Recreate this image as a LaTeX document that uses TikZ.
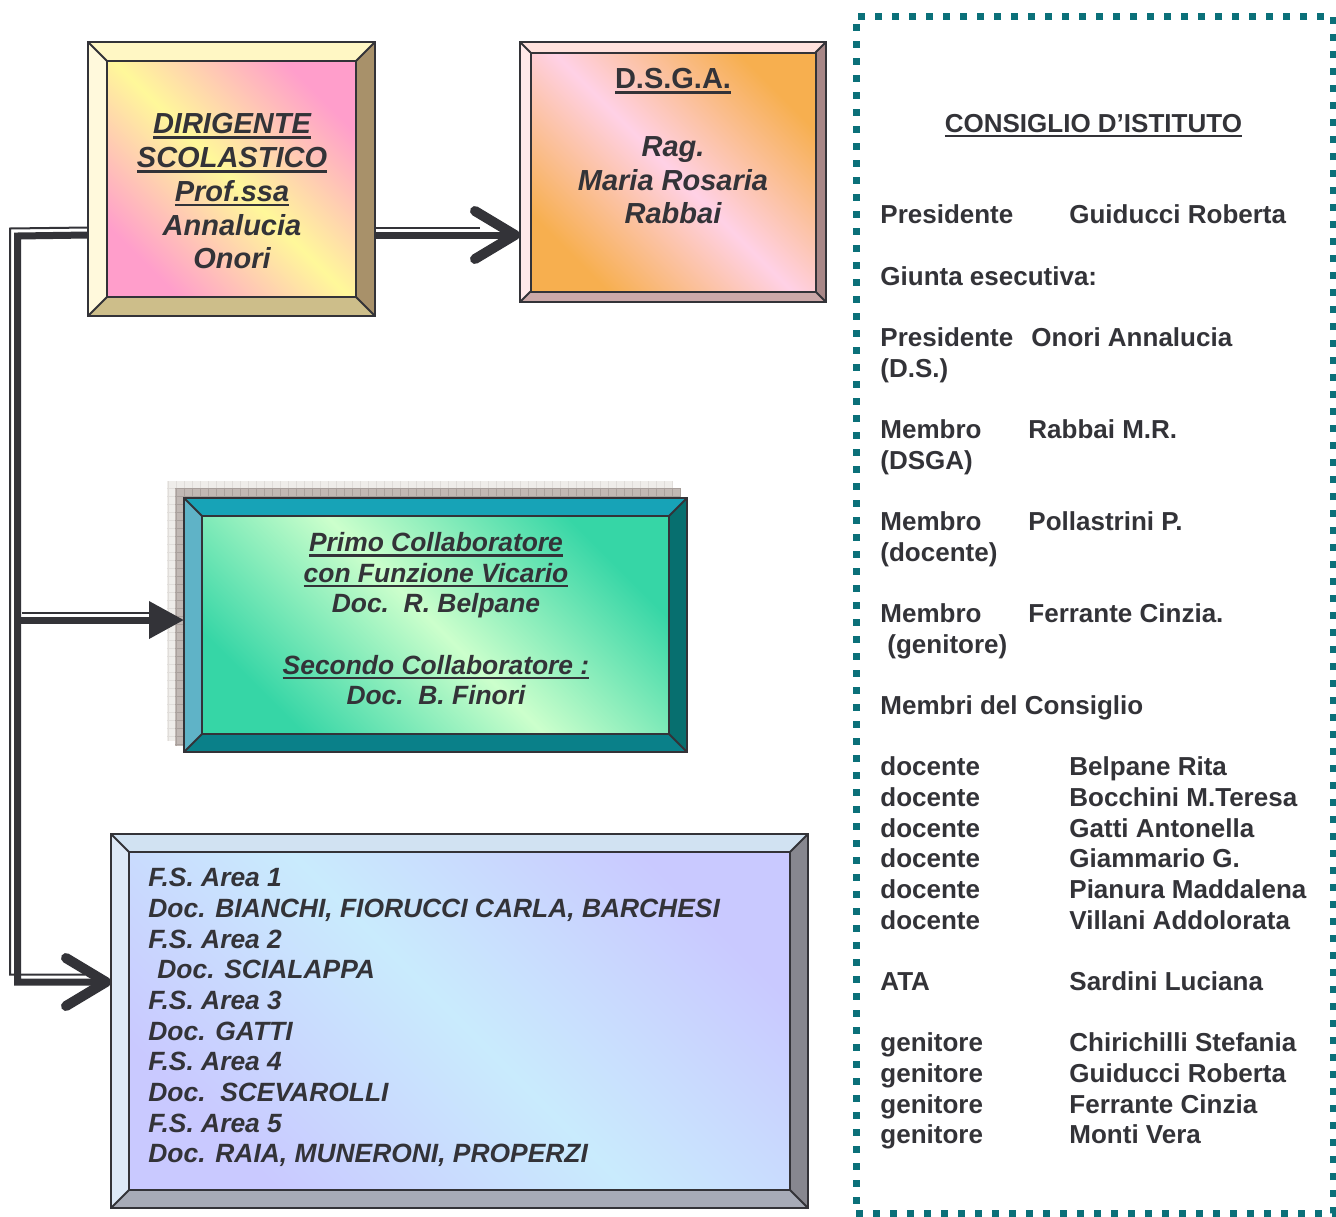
\documentclass[tikz,border=0pt]{standalone}
\usepackage{fontspec}
\setmainfont{Liberation Sans}
\usepackage{tikz}
\usetikzlibrary{arrows.meta}
\usetikzlibrary{positioning,calc}

\definecolor{ink}{HTML}{333338}
\definecolor{dsTop}{HTML}{FFF7C4}
\definecolor{dsLeft}{HTML}{FFF9DC}
\definecolor{dsRight}{HTML}{A8916A}
\definecolor{dsBottom}{HTML}{CDBE8A}
\definecolor{dsCorner}{HTML}{FF9ECB}
\definecolor{dsCenter}{HTML}{FFF89A}
\definecolor{gaTop}{HTML}{FFE1DD}
\definecolor{gaLeft}{HTML}{FFE9E9}
\definecolor{gaRight}{HTML}{A88787}
\definecolor{gaBottom}{HTML}{CCA9A9}
\definecolor{gaCorner}{HTML}{F7AF4F}
\definecolor{gaCenter}{HTML}{FFD1E6}
\definecolor{cvTop}{HTML}{17A3B7}
\definecolor{cvLeft}{HTML}{5FB3C7}
\definecolor{cvRight}{HTML}{076F6F}
\definecolor{cvBottom}{HTML}{0A8089}
\definecolor{cvCorner}{HTML}{36D6A6}
\definecolor{cvCenter}{HTML}{CCFFCC}
\definecolor{fsTop}{HTML}{D1E2F2}
\definecolor{fsLeft}{HTML}{DDE9F7}
\definecolor{fsRight}{HTML}{87878F}
\definecolor{fsBottom}{HTML}{A7ABB7}
\definecolor{fsCorner}{HTML}{C9C9FF}
\definecolor{fsCenter}{HTML}{C9EBFD}
\definecolor{cdiTeal}{HTML}{0B7079}
\definecolor{shLight}{HTML}{EFEDEA}
\definecolor{shLightGrid}{HTML}{E0DDDA}
\definecolor{shDark}{HTML}{C1B8B4}
\definecolor{shDarkGrid}{HTML}{A9A09C}

\tikzset{
    frame/.style={
        inner sep=0pt,
        outer sep=0pt
    },
    bevelline/.style={
        draw=ink,
        line width=1pt
    },
    boxtext/.style={
        align=center,
        text=ink,
        inner sep=0pt,
        font=\bfseries\itshape\fontsize{14.5}{16.9}\selectfont
    },
    smalltext/.style={
        text=ink,
        inner sep=0pt,
        font=\bfseries\itshape\fontsize{13.2}{15.33}\selectfont
    },
    cditext/.style={
        text=ink,
        inner sep=0pt,
        font=\bfseries\fontsize{13}{15.33}\selectfont
    },
    conthick/.style={
        draw=ink,
        line width=3.5pt
    },
    conthin/.style={
        draw=ink,
        line width=1pt
    },
    chev/.style={
        -{Straight Barb[length=20pt, width=24pt, line width=5pt 0, round]}
    }
}

% underline with a heavier rule
\newcommand{\undl}[1]{\setbox0=\hbox{#1}\rlap{\rule[-2.6pt]{\wd0}{1.3pt}}\box0}

% bevelled frame round node #1, bevel #2, sides #3-#6, gradient #7/#8
\newcommand{\bevelbox}[8]{%
    \fill[#3] (#1.north west) -- (#1.north east) -- ($(#1.north east)+(-#2,#2)$) -- ($(#1.north west)+(#2,#2)$) -- cycle;
    \fill[#4] (#1.north west) -- ($(#1.north west)+(#2,#2)$) -- ($(#1.south west)+(#2,-#2)$) -- (#1.south west) -- cycle;
    \fill[#5] (#1.north east) -- ($(#1.north east)+(-#2,#2)$) -- ($(#1.south east)+(-#2,-#2)$) -- (#1.south east) -- cycle;
    \fill[#6] (#1.south west) -- ($(#1.south west)+(#2,-#2)$) -- ($(#1.south east)+(-#2,-#2)$) -- (#1.south east) -- cycle;
    \shade[top color=#7, bottom color=#7, middle color=#8, shading angle=-45] ($(#1.north west)+(#2,#2)$) rectangle ($(#1.south east)+(-#2,-#2)$);
    \draw[bevelline] (#1.north west) rectangle (#1.south east);
    \draw[bevelline] ($(#1.north west)+(#2,#2)$) rectangle ($(#1.south east)+(-#2,-#2)$);
    \draw[bevelline] (#1.north west) -- ++(#2,#2);
    \draw[bevelline] (#1.north east) -- ++(-#2,#2);
    \draw[bevelline] (#1.south west) -- ++(#2,-#2);
    \draw[bevelline] (#1.south east) -- ++(-#2,-#2);
}

\begin{document}
\begin{tikzpicture}[x=0.5pt, y=-0.5pt]
    \useasboundingbox (0,0) rectangle (1336,1216);

    % Dirigente
    \node[frame, minimum width=143.5pt, minimum height=137pt] (ds) at (231.5,179) {};
    \bevelbox{ds}{19}{dsTop}{dsLeft}{dsRight}{dsBottom}{dsCorner}{dsCenter}
    \node[boxtext, anchor=north] (dstxt) at (232,113) {\undl{DIRIGENTE}\\ \undl{SCOLASTICO}\\ \undl{Prof.ssa}\\ Annalucia\\ Onori};

    % D.S.G.A.
    \node[frame, minimum width=153pt, minimum height=130pt] (dsga) at (673,172) {};
    \bevelbox{dsga}{10.5}{gaTop}{gaLeft}{gaRight}{gaBottom}{gaCorner}{gaCenter}
    \node[boxtext, anchor=north] (dsgatxt) at (673,68) {\undl{\upshape D.S.G.A.}\\ ~\\ Rag.\\ Maria Rosaria\\ Rabbai};

    % Collaboratori (with textured shadow)
    \fill[shLight] (167,481) rectangle (672,741);
    \draw[shLightGrid, line width=0.4pt, step=4pt] (167,481) grid (672,741);
    \fill[shDark] (175,488) rectangle (680,746);
    \draw[shDarkGrid, line width=0.4pt, step=4pt] (175,488) grid (680,746);
    \node[frame, minimum width=251.5pt, minimum height=127pt] (cv) at (435.5,625) {};
    \bevelbox{cv}{18}{cvTop}{cvLeft}{cvRight}{cvBottom}{cvCorner}{cvCenter}
    \node[smalltext, align=center, anchor=north] (cvtxt) at (436,532) {\undl{Primo Collaboratore}\\ \undl{con Funzione Vicario}\\ Doc.\ \ R. Belpane\\ ~\\ \undl{Secondo Collaboratore :}\\ Doc.\ \ B. Finori};

    % Funzioni strumentali
    \node[frame, minimum width=348.5pt, minimum height=187pt] (fs) at (459.5,1021) {};
    \bevelbox{fs}{18}{fsTop}{fsLeft}{fsRight}{fsBottom}{fsCorner}{fsCenter}
    \node[smalltext, align=left, anchor=north west] (fstxt) at (148,868) {F.S. Area 1\\ Doc. BIANCHI, FIORUCCI CARLA, BARCHESI\\ F.S. Area 2\\ \hspace*{4.5pt}Doc. SCIALAPPA\\ F.S. Area 3\\ Doc. GATTI\\ F.S. Area 4\\ Doc.\ \ SCEVAROLLI\\ F.S. Area 5\\ Doc. RAIA, MUNERONI, PROPERZI};

    % Consiglio d'istituto
    \node[draw=cdiTeal, line width=3.5pt, dash pattern=on 3.5pt off 5pt, minimum width=238.5pt, minimum height=598.5pt] (cdi) at (1094.5,614.5) {};
    \node[cditext, anchor=base west] (cditxt) at (880,132) {%
        \begin{tabular}[t]{@{}p{94.5pt}@{}l@{}}
            \multicolumn{2}{@{}c@{}}{\undl{CONSIGLIO D’ISTITUTO}}\\
            \\ \\
            Presidente & Guiducci Roberta\\
            \\
            \multicolumn{2}{@{}l@{}}{Giunta esecutiva:}\\
            \\
            \multicolumn{2}{@{}l@{}}{\makebox[75.5pt][l]{Presidente}Onori Annalucia}\\
            (D.S.) & \\
            \\
            \multicolumn{2}{@{}l@{}}{\makebox[74pt][l]{Membro}Rabbai M.R.}\\
            (DSGA) & \\
            \\
            \multicolumn{2}{@{}l@{}}{\makebox[74pt][l]{Membro}Pollastrini P.}\\
            (docente) & \\
            \\
            \multicolumn{2}{@{}l@{}}{\makebox[74pt][l]{Membro}Ferrante Cinzia.}\\
            \hspace*{3.5pt}(genitore) & \\
            \\
            \multicolumn{2}{@{}l@{}}{Membri del Consiglio}\\
            \\
            docente & Belpane Rita\\
            docente & Bocchini M.Teresa\\
            docente & Gatti Antonella\\
            docente & Giammario G.\\
            docente & Pianura Maddalena\\
            docente & Villani Addolorata\\
            \\
            ATA & Sardini Luciana\\
            \\
            genitore & Chirichilli Stefania\\
            genitore & Guiducci Roberta\\
            genitore & Ferrante Cinzia\\
            genitore & Monti Vera
        \end{tabular}};

    % connectors
    \coordinate (dsout) at ([yshift=-28pt]ds.east);
    \coordinate (dsin) at (dsout -| dsga.west);
    \coordinate (dsleft) at (ds.west |- dsout);
    \coordinate (trunk) at (17.5,236);
    \coordinate (cvin) at ([yshift=2.5pt]cv.west);
    \coordinate (cvjoin) at (trunk |- cvin);
    \coordinate (fsin) at ([yshift=19.5pt]fs.west);

    \draw[conthin, shorten >=20pt] ([yshift=3.75pt]dsout) -- ([yshift=3.75pt]dsin);
    \draw[conthick, chev] (dsout) -- (dsin);

    \draw[conthin, shorten >=13pt] ([yshift=3.75pt]dsleft) -- ([shift={(-3.75pt,3.75pt)}]trunk) |- ([yshift=3.75pt]fsin);
    \draw[conthick, chev] (dsleft) -- (trunk) |- (fsin);

    \draw[conthin, shorten >=17pt] ([shift={(2pt,3.75pt)}]cvjoin) -- ([yshift=3.75pt]cvin);
    \draw[conthick, -{Triangle[length=17.5pt, width=18pt]}] (cvjoin) -- (cvin);
\end{tikzpicture}
\end{document}
